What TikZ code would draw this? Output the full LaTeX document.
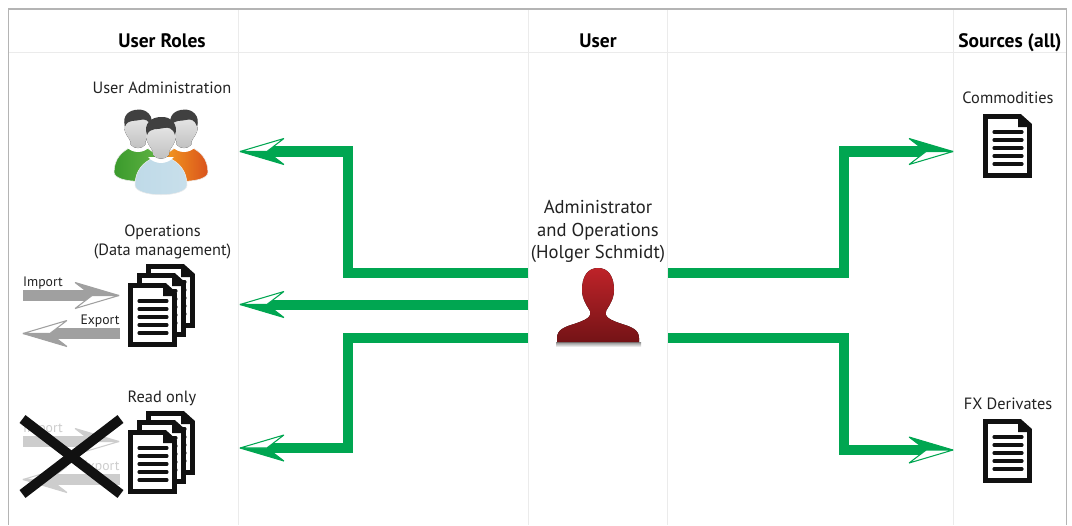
\documentclass[tikz,border=0pt]{standalone}
\usepackage{fontspec}
\setmainfont{PT Sans}
\usetikzlibrary{arrows.meta}
\definecolor{flowgreen}{HTML}{00A651}
\definecolor{gridgray}{HTML}{EBEBEB}
\definecolor{framegray}{HTML}{B4B4B4}
\definecolor{inkblack}{HTML}{111111}
\definecolor{labelink}{HTML}{222222}
\definecolor{mvgray}{HTML}{A0A0A0}
\definecolor{fadegray}{HTML}{CDCDCD}
\definecolor{shirtgreenA}{HTML}{3A9A2C}
\definecolor{shirtgreenB}{HTML}{63B545}
\definecolor{shirtorangeA}{HTML}{F6A01E}
\definecolor{shirtorangeB}{HTML}{D9531D}
\definecolor{shirtblueA}{HTML}{BFDAE8}
\definecolor{shirtblueB}{HTML}{C8DFEB}
\definecolor{chieftop}{HTML}{BE2329}
\definecolor{chiefbottom}{HTML}{741316}
% half open head, white on the right hand side of the line
\pgfdeclarearrow{
	name=Half Tip,
	setup code={
		\pgfarrowssetbackend{-25pt}
		\pgfarrowssetlineend{-14pt}
		\pgfarrowssettipend{0pt}
	},
	drawing code={
		\pgfsetlinewidth{.6pt}
		\pgfsetbeveljoin
		\pgfpathmoveto{\pgfqpoint{0pt}{0pt}}
		\pgfpathlineto{\pgfqpoint{-25pt}{7.4pt}}
		\pgfpathlineto{\pgfqpoint{-15.3pt}{0pt}}
		\pgfpathclose
		\pgfusepathqfillstroke
		{\pgfsetfillcolor{white}
		\pgfpathmoveto{\pgfqpoint{0pt}{0pt}}
		\pgfpathlineto{\pgfqpoint{-25pt}{-7.4pt}}
		\pgfpathlineto{\pgfqpoint{-15.3pt}{0pt}}
		\pgfpathclose
		\pgfusepathqfillstroke}
	}
}
\begin{document}
\begin{tikzpicture}[
		x=.02cm,
		y=-.02cm,
		heading/.style={font=\fontsize{11.1}{13}\selectfont\bfseries, text=black, inner sep=0pt, anchor=base},
		caption/.style={font=\fontsize{9.3}{11}\selectfont, text=labelink, align=center, inner sep=0pt},
		chiefcaption/.style={font=\fontsize{10.6}{13}\selectfont, text=labelink, align=center, inner sep=0pt},
		small/.style={font=\fontsize{7.8}{9}\selectfont, text=labelink, inner sep=0pt},
		gridline/.style={gridgray, line width=.5pt},
		flow/.style={draw=flowgreen, line width=5.7pt, -{Half Tip[color=flowgreen]}},
		move/.style={draw=mvgray, line width=5.8pt, -{Half Tip[color=mvgray]}},
		fademove/.style={draw=fadegray, line width=5.8pt, -{Half Tip[color=fadegray]}},
		crossline/.style={inkblack, line width=5.6pt},
		docicon/.pic={
			\draw[inkblack, fill=white, line width=2.7pt, miter limit=3]
				(2.5,2.5) -- (37,2.5) -- (46.5,11) -- (46.5,61.5) -- (2.5,61.5) -- cycle;
			\fill[inkblack] (35,2.5) -- (46.5,11) -- (46.5,13) -- (35,13) -- cycle;
			\foreach \ly in {18,26,34,42,50}
				\draw[inkblack, line width=1.8pt, line cap=round] (11,\ly) -- (39,\ly);
		},
		docstack/.pic={
			\pic at (18,-19) {docicon};
			\pic at (9,-10) {docicon};
			\pic at (0,0) {docicon};
		},
		pics/person/.style 2 args={code={
			\draw[white!85!gray, line width=.3pt, left color=#1, right color=#2]
				(-26,47) .. controls (-26,32) and (-17,24) .. (-8,20) -- (8,20)
				.. controls (17,24) and (26,32) .. (26,47)
				.. controls (26,60) and (-26,60) .. (-26,47) -- cycle;
			\fill[white] (-13,19) .. controls (-6,27) and (6,27) .. (13,19) -- cycle;
			\fill[top color=white!90!gray, bottom color=white!50!gray]
				(-15,-3) .. controls (-15,-24) and (15,-24) .. (15,-3)
				.. controls (15,6) and (9,10) .. (8,14) -- (8,17)
				.. controls (4,22) and (-4,22) .. (-8,17) -- (-8,14)
				.. controls (-9,10) and (-15,6) .. (-15,-3) -- cycle;
			\fill[black!75] (-14,-3) .. controls (-18,-15) and (-9,-21) .. (0,-21)
				.. controls (9,-22) and (18,-14) .. (14,-3)
				.. controls (12,-10) and (7,-11) .. (3,-10)
				.. controls (-3,-8) and (-11,-11) .. (-14,-3) -- cycle;
		}},
	]
	\useasboundingbox (0,0) rectangle (1072,525);
	\fill[white] (0,0) rectangle (1072,525);

	% table
	\draw[gridline] (9,52) -- (1066,52);
	\foreach \gx in {238,528,667,953}
		\draw[gridline] (\gx,9) -- (\gx,525);
	\draw[framegray, line width=.6pt] (8.5,525) -- (8.5,9) -- (1066.5,9) -- (1066.5,525);

	\node[heading] (roleshead) at (162,47) {User Roles};
	\node[heading] (userhead) at (598,47) {User};
	\node[heading] (sourceshead) at (1010,47) {Sources (all)};

	\node[caption] (adminlabel) at (162,88) {User Administration};
	\node[caption] (opslabel) at (162.5,242) {Operations\\(Data management)};
	\node[caption] (readlabel) at (162,398) {Read only};
	\node[chiefcaption] (chieflabel) at (598,231.5) {Administrator\\and Operations\\(Holger Schmidt)};
	\node[caption] (commlabel) at (1008,98) {Commodities};
	\node[caption] (fxlabel) at (1008,404) {FX Derivates};

	% icons
	\pic[scale=.92] at (138,129) {person={shirtgreenA}{shirtgreenB}};
	\pic[scale=.92] at (184,129) {person={shirtorangeA}{shirtorangeB}};
	\pic at (161,138) {person={shirtblueA}{shirtblueB}};
	\pic at (128,283) {docstack};
	\pic at (128,430) {docstack};
	\pic at (983,114) {docicon};
	\pic at (983,419) {docicon};

	\shade[top color=black!45, bottom color=white] (556,342) rectangle (641,347);
	\fill[top color=chieftop, bottom color=chiefbottom]
		(598,268) .. controls (608,268) and (614,276) .. (614,290)
		.. controls (614,300) and (608,307) .. (606,311)
		.. controls (604,317) and (610,320) .. (622,324)
		.. controls (632,327) and (639,330) .. (639,338)
		-- (639,342) -- (557,342) -- (557,338)
		.. controls (557,330) and (564,327) .. (574,324)
		.. controls (586,320) and (592,317) .. (590,311)
		.. controls (588,307) and (582,300) .. (582,290)
		.. controls (582,276) and (588,268) .. (598,268) -- cycle;

	% free ends
	\coordinate (bendL) at (348,0);
	\coordinate (bendR) at (844,0);
	\coordinate (chiefW1) at (528,273);
	\coordinate (chiefW2) at (528,304.5);
	\coordinate (chiefW3) at (528,337.5);
	\coordinate (chiefE1) at (668,273);
	\coordinate (chiefE3) at (668,337.5);
	\coordinate (admintip) at (240,151.5);
	\coordinate (opstip) at (240,304.5);
	\coordinate (readtip) at (240,448);
	\coordinate (commtip) at (953,151.5);
	\coordinate (fxtip) at (953,450);

	\draw[flow] (chiefW1) -- (chiefW1 -| bendL) -- (bendL |- admintip) -- (admintip);
	\draw[flow] (chiefW2) -- (opstip);
	\draw[flow] (chiefW3) -- (chiefW3 -| bendL) -- (bendL |- readtip) -- (readtip);
	\draw[flow] (chiefE1) -- (chiefE1 -| bendR) -- (bendR |- commtip) -- (commtip);
	\draw[flow] (chiefE3) -- (chiefE3 -| bendR) -- (bendR |- fxtip) -- (fxtip);

	% import and export
	\coordinate (importS) at (23,295.5);
	\coordinate (importE) at (119,295.5);
	\coordinate (exportS) at (120,333.5);
	\coordinate (exportE) at (23,333.5);
	\coordinate (fadeimportS) at (23,441.5);
	\coordinate (fadeimportE) at (119,441.5);
	\coordinate (fadeexportS) at (120,479.5);
	\coordinate (fadeexportE) at (23,479.5);
	\draw[move] (importS) -- (importE);
	\draw[move] (exportS) -- (exportE);
	\node[small] (importlabel) at (43,283) {Import};
	\node[small] (exportlabel) at (100,321) {Export};
	\draw[fademove] (fadeimportS) -- (fadeimportE);
	\draw[fademove] (fadeexportS) -- (fadeexportE);
	\node[small, text=fadegray] (fadeimport) at (43,429) {Import};
	\node[small, text=fadegray] (fadeexport) at (100,467) {Export};
	\draw[crossline] (22.5,419) -- (120.5,494);
	\draw[crossline] (120.5,419) -- (22.5,494);
\end{tikzpicture}
\end{document}
